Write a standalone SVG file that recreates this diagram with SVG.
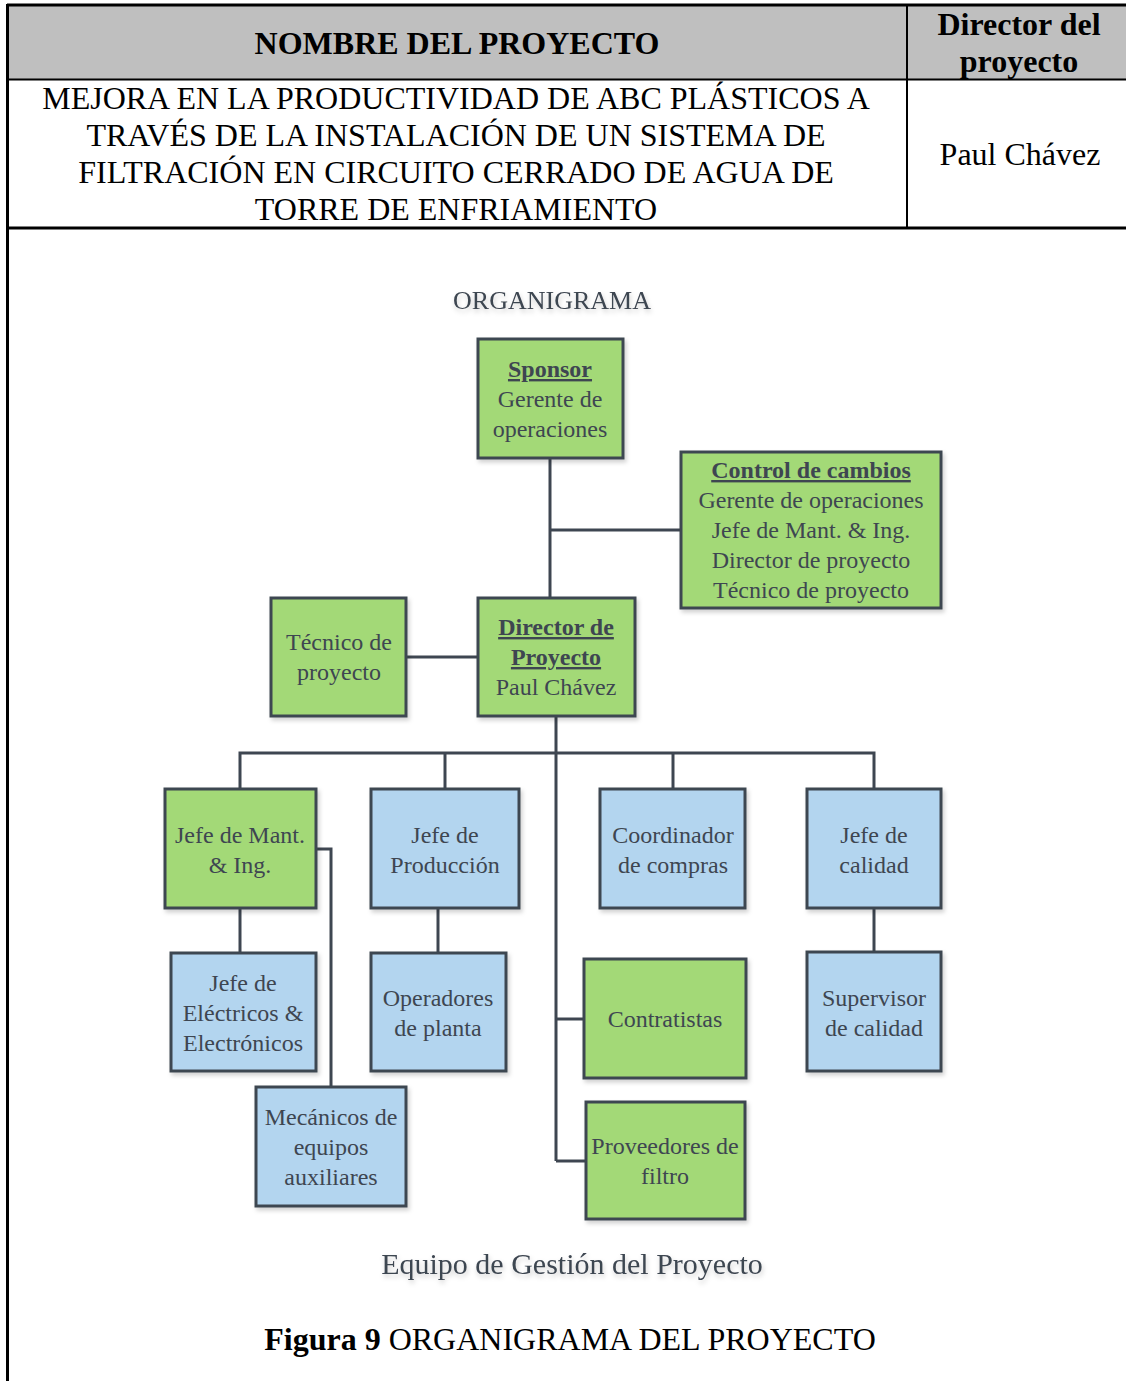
<svg xmlns="http://www.w3.org/2000/svg" width="1126" height="1381" viewBox="0 0 1126 1381">
  <defs>
    <filter id="shadow" x="-10%" y="-10%" width="130%" height="130%">
      <feDropShadow dx="2" dy="3" stdDeviation="2" flood-color="#000" flood-opacity="0.18"/>
    </filter>
    <filter id="tshadow" x="-5%" y="-30%" width="110%" height="180%">
      <feDropShadow dx="1" dy="3" stdDeviation="2.5" flood-color="#000" flood-opacity="0.2"/>
    </filter>
  </defs>
  <style>
    .tb { font-family: "Liberation Serif", "Times New Roman", serif; fill: #000; text-anchor: middle; }
    .hd { font-weight: bold; font-size: 32px; }
    .bd { font-size: 32px; }
    .box rect { stroke: #3e4651; stroke-width: 3; filter: url(#shadow); }
    .g rect { fill: #a3d977; }
    .b rect { fill: #b3d5ef; }
    .box text { font-family: "Liberation Serif", "Times New Roman", serif; font-size: 24px; fill: #3e4651; text-anchor: middle; }
    .box text .t { font-weight: bold; text-decoration: underline; }
    .conn line, .conn polyline { stroke: #3e4651; stroke-width: 3; fill: none; }
    .ttl { font-family: "Liberation Serif", "Times New Roman", serif; fill: #3e4651; text-anchor: middle; filter: url(#tshadow); }
  </style>
  <rect width="1126" height="1381" fill="#fff"/>

  <!-- project header table -->
  <g id="table">
    <rect x="7" y="5" width="1121" height="74" fill="#bfbfbf"/>
    <line x1="7" y1="5" x2="1126" y2="5" stroke="#000" stroke-width="3"/>
    <line x1="7" y1="79.5" x2="1126" y2="79.5" stroke="#000" stroke-width="2"/>
    <line x1="7" y1="228" x2="1126" y2="228" stroke="#000" stroke-width="3"/>
    <line x1="907" y1="5" x2="907" y2="228" stroke="#000" stroke-width="2"/>
    <line x1="7.5" y1="4" x2="7.5" y2="1381" stroke="#000" stroke-width="3"/>
    <text class="tb hd" x="457" y="54">NOMBRE DEL PROYECTO</text>
    <text class="tb hd" x="1019" y="35">Director del</text>
    <text class="tb hd" x="1019" y="72">proyecto</text>
    <text class="tb bd" x="456" y="109">MEJORA EN LA PRODUCTIVIDAD DE ABC PLÁSTICOS A</text>
    <text class="tb bd" x="456" y="146">TRAVÉS DE LA INSTALACIÓN DE UN SISTEMA DE</text>
    <text class="tb bd" x="456" y="183">FILTRACIÓN EN CIRCUITO CERRADO DE AGUA DE</text>
    <text class="tb bd" x="456" y="220">TORRE DE ENFRIAMIENTO</text>
    <text class="tb bd" x="1020" y="165">Paul Chávez</text>
  </g>

  <text class="ttl" x="552" y="309" font-size="26">ORGANIGRAMA</text>

  <!-- connectors -->
  <g id="connectors" class="conn">
    <line x1="550" y1="459" x2="550" y2="597"/>
    <line x1="550" y1="530" x2="680" y2="530"/>
    <line x1="407" y1="657" x2="477" y2="657"/>
    <line x1="556" y1="717" x2="556" y2="1161"/>
    <polyline points="240,788 240,753 874,753 874,788"/>
    <line x1="445" y1="753" x2="445" y2="788"/>
    <line x1="673" y1="753" x2="673" y2="788"/>
    <line x1="556" y1="1019" x2="583" y2="1019"/>
    <line x1="556" y1="1161" x2="585" y2="1161"/>
    <line x1="240" y1="909" x2="240" y2="952"/>
    <polyline points="317,849 331,849 331,1086"/>
    <line x1="438" y1="909" x2="438" y2="952"/>
    <line x1="874" y1="909" x2="874" y2="951"/>
  </g>

  <!-- nodes -->
  <g id="sponsor" class="box g">
    <rect x="478" y="339" width="145" height="119"/>
    <text x="550" y="377"><tspan class="t">Sponsor</tspan></text>
    <text x="550" y="407">Gerente de</text>
    <text x="550" y="437">operaciones</text>
  </g>
  <g id="control-cambios" class="box g">
    <rect x="681" y="452" width="260" height="156"/>
    <text x="811" y="478"><tspan class="t">Control de cambios</tspan></text>
    <text x="811" y="508">Gerente de operaciones</text>
    <text x="811" y="538">Jefe de Mant. &amp; Ing.</text>
    <text x="811" y="568">Director de proyecto</text>
    <text x="811" y="598">Técnico de proyecto</text>
  </g>
  <g id="tecnico" class="box g">
    <rect x="271" y="598" width="135" height="118"/>
    <text x="339" y="650">Técnico de</text>
    <text x="339" y="680">proyecto</text>
  </g>
  <g id="director" class="box g">
    <rect x="478" y="598" width="157" height="118"/>
    <text x="556" y="635"><tspan class="t">Director de</tspan></text>
    <text x="556" y="665"><tspan class="t">Proyecto</tspan></text>
    <text x="556" y="695">Paul Chávez</text>
  </g>
  <g id="jefe-mant" class="box g">
    <rect x="165" y="789" width="151" height="119"/>
    <text x="240" y="843">Jefe de Mant.</text>
    <text x="240" y="873">&amp; Ing.</text>
  </g>
  <g id="jefe-produccion" class="box b">
    <rect x="371" y="789" width="148" height="119"/>
    <text x="445" y="843">Jefe de</text>
    <text x="445" y="873">Producción</text>
  </g>
  <g id="coordinador" class="box b">
    <rect x="600" y="789" width="145" height="119"/>
    <text x="673" y="843">Coordinador</text>
    <text x="673" y="873">de compras</text>
  </g>
  <g id="jefe-calidad" class="box b">
    <rect x="807" y="789" width="134" height="119"/>
    <text x="874" y="843">Jefe de</text>
    <text x="874" y="873">calidad</text>
  </g>
  <g id="jefe-electricos" class="box b">
    <rect x="171" y="953" width="145" height="118"/>
    <text x="243" y="991">Jefe de</text>
    <text x="243" y="1021">Eléctricos &amp;</text>
    <text x="243" y="1051">Electrónicos</text>
  </g>
  <g id="operadores" class="box b">
    <rect x="371" y="953" width="135" height="118"/>
    <text x="438" y="1006">Operadores</text>
    <text x="438" y="1036">de planta</text>
  </g>
  <g id="contratistas" class="box g">
    <rect x="584" y="959" width="162" height="119"/>
    <text x="665" y="1027">Contratistas</text>
  </g>
  <g id="supervisor" class="box b">
    <rect x="807" y="952" width="134" height="119"/>
    <text x="874" y="1006">Supervisor</text>
    <text x="874" y="1036">de calidad</text>
  </g>
  <g id="mecanicos" class="box b">
    <rect x="256" y="1087" width="150" height="119"/>
    <text x="331" y="1125">Mecánicos de</text>
    <text x="331" y="1155">equipos</text>
    <text x="331" y="1185">auxiliares</text>
  </g>
  <g id="proveedores" class="box g">
    <rect x="586" y="1102" width="159" height="117"/>
    <text x="665" y="1154">Proveedores de</text>
    <text x="665" y="1184">filtro</text>
  </g>

  <text class="ttl" x="572" y="1274" font-size="30">Equipo de Gestión del Proyecto</text>

  <text class="tb bd" x="570" y="1350"><tspan font-weight="bold">Figura 9</tspan> ORGANIGRAMA DEL PROYECTO</text>
</svg>
